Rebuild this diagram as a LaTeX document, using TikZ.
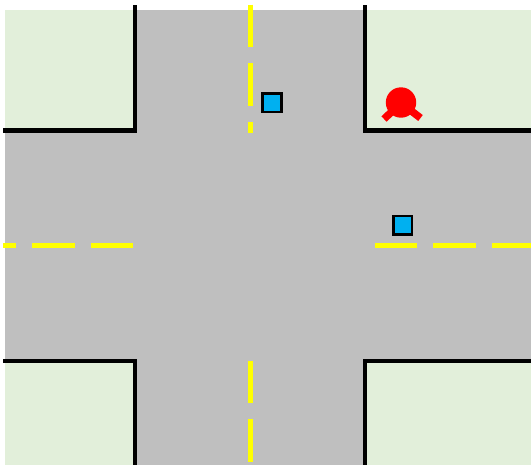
\documentclass[tikz,border=0pt]{standalone}
\usepackage{tikz}

\definecolor{roadgray}{HTML}{BFBFBF}
\definecolor{grassgreen}{HTML}{E2EFDA}
\definecolor{carblue}{HTML}{00B0F0}
\definecolor{laneyellow}{RGB}{255,255,0}
\definecolor{walkred}{RGB}{255,0,0}

\tikzset{
  kerb/.style={draw=black,line width=3.2pt,miter limit=10},
  lane/.style={draw=laneyellow,line width=4pt},
  car/.style={draw=black,fill=carblue,line width=1.8pt,minimum size=14pt,inner sep=0pt},
  arm/.style={draw=walkred,line width=5.6pt}
}

\begin{document}
\begin{tikzpicture}[x=0.75pt,y=-0.75pt]

\useasboundingbox (0,0) rectangle (531,465);

% Road
\fill[roadgray] (5,10) rectangle (531,465);

% Grass corners
\fill[grassgreen] (5,10) rectangle (134,129);
\fill[grassgreen] (366,10) rectangle (531,129);
\fill[grassgreen] (5,362) rectangle (134,465);
\fill[grassgreen] (366,363) rectangle (531,465);

% Kerbs
\draw[kerb] (3,130.5) -- (135,130.5) -- (135,4.5);
\draw[kerb] (531,130.5) -- (365,130.5) -- (365,4.5);
\draw[kerb] (3,361) -- (135,361) -- (135,465);
\draw[kerb] (531,361) -- (365,361) -- (365,465);

% Vertical lane marks
\foreach \a/\b in {4.7/47,63/106,122/132.5,360.7/403,419/462}
{
\draw[lane] (250.2,\a) -- (250.2,\b);
}

% Horizontal lane marks
\foreach \a/\b in {3/16,32/75,91/133,374.7/417,433/476,492/531}
{
\draw[lane] (\a,245.5) -- (\b,245.5);
}

% Cars
\node[car] (car1) at (272,102.8) {};
\node[car] (car2) at (402.7,225.2) {};

% Pedestrian
\draw[arm] (401,103) -- (384,119);
\draw[arm] (401,103) -- (420.5,118);
\fill[walkred] (401,102.5) circle (15.2);

\end{tikzpicture}
\end{document}
